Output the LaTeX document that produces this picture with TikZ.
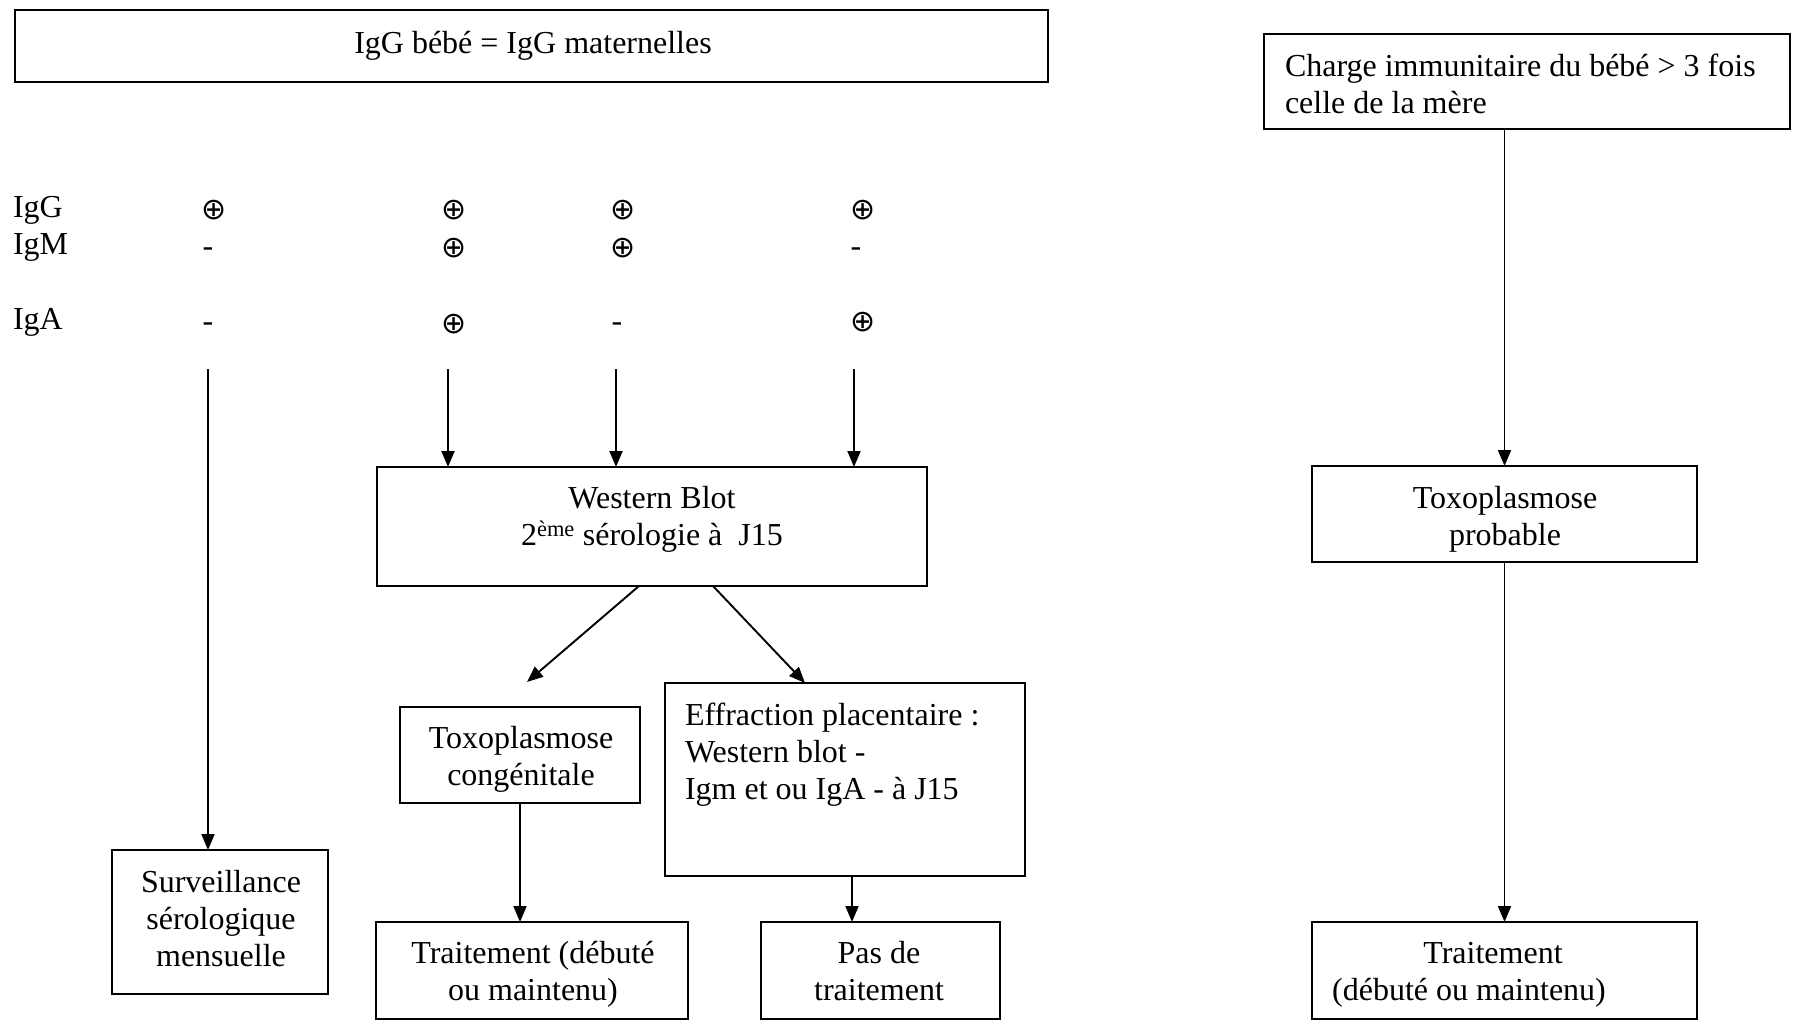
\documentclass[tikz,border=0pt]{standalone}
\usepackage{fontspec}
\setmainfont{Liberation Serif}
\newfontfamily\symbfont{DejaVu Sans}
\usetikzlibrary{arrows.meta,calc}
\begin{document}
\begin{tikzpicture}[x=1pt,y=-1pt,
  box/.style={draw, line width=2.1pt, inner sep=0pt, outer sep=0pt},
  txt/.style={inner sep=0pt, outer sep=0pt, font=\fontsize{32}{37}\selectfont},
  ctr/.style={txt, align=center, anchor=north, yshift=25.9pt},
  lft/.style={txt, align=left, anchor=north west, yshift=25.9pt},
  rowlab/.style={txt, anchor=base west},
  negsign/.style={txt, anchor=base},
  plus/.style={inner sep=0pt, font=\symbfont\fontsize{30}{30}\selectfont},
  arr/.style={line width=1.9pt, -{Triangle[length=16pt,width=13pt]}}]
\useasboundingbox (0,0) rectangle (1793,1024);

% boxes
\node[box, minimum width=1033pt, minimum height=72pt]  (top)    at (531.5,46) {};
\node[box, minimum width=526pt,  minimum height=95pt]  (charge) at (1527,81.5) {};
\node[box, minimum width=550pt,  minimum height=119pt] (wb)     at (652,526.5) {};
\node[box, minimum width=240pt,  minimum height=96pt]  (tcg)    at (520,755) {};
\node[box, minimum width=360pt,  minimum height=193pt] (eff)    at (845,779.5) {};
\node[box, minimum width=216pt,  minimum height=144pt] (surv)   at (220,922) {};
\node[box, minimum width=312pt,  minimum height=97pt]  (trl)    at (532,970.5) {};
\node[box, minimum width=239pt,  minimum height=97pt]  (pas)    at (880.5,970.5) {};
\node[box, minimum width=385pt,  minimum height=96pt]  (tp)     at (1504.5,514) {};
\node[box, minimum width=385pt,  minimum height=97pt]  (trr)    at (1504.5,970.5) {};

% box texts (positions are first baselines)
\node[ctr] (ttop) at (533,53.5) {\strut IgG bébé = IgG maternelles};
\node[lft] (tcharge) at (1285,76.5) {\strut Charge immunitaire du bébé > 3 fois\\celle de la mère};
\node[ctr] (twb) at (652,508.5) {\strut Western Blot\\2\textsuperscript{ème} sérologie à~ J15};
\node[ctr] (ttcg) at (521,748) {\strut Toxoplasmose\\congénitale};
\node[lft] (teff) at (685,725) {\strut Effraction placentaire :\\Western blot -\\Igm et ou IgA - à J15};
\node[ctr] (tsurv) at (221,892) {\strut Surveillance\\sérologique\\mensuelle};
\node[ctr] (ttrl) at (533,963.5) {\strut Traitement (débuté\\ou maintenu)};
\node[ctr] (tpas) at (879,963.5) {\strut Pas de\\traitement};
\node[ctr] (ttp) at (1505,508.5) {\strut Toxoplasmose\\probable};
\node[ctr] (ttrr) at (1493,963.5) {\strut Traitement\\(débuté ou maintenu)\hspace*{48pt}};

% serology table
\node[rowlab] (lg) at (13,218) {IgG};
\node[rowlab] (lm) at (13,255) {IgM};
\node[rowlab] (la) at (13,329) {IgA};

\node[plus] (g1) at (214,210.5) {⊕};
\node[plus] (g2) at (454,210.5) {⊕};
\node[plus] (g3) at (623,210.5) {⊕};
\node[plus] (g4) at (863,210.5) {⊕};

\node[negsign] (m1) at (208,257) {-};
\node[plus]    (m2) at (454,248) {⊕};
\node[plus]    (m3) at (623,248) {⊕};
\node[negsign] (m4) at (856,257) {-};

\node[negsign] (a1) at (208,331) {-};
\node[plus]    (a2) at (454,324) {⊕};
\node[negsign] (a3) at (617,331) {-};
\node[plus]    (a4) at (863,322) {⊕};

% free ends of the connectors
\coordinate (c1) at (208,369);
\coordinate (c2) at (448,369);
\coordinate (c3) at (616,369);
\coordinate (c4) at (854,369);
\coordinate (dl) at (527,682);
\coordinate (e1) at (852,0);

% connectors
\draw[arr] (c1) -- (c1 |- surv.north);
\draw[arr] (c2) -- (c2 |- wb.north);
\draw[arr] (c3) -- (c3 |- wb.north);
\draw[arr] (c4) -- (c4 |- wb.north);
\draw[arr] ($(wb.south)+(-13,0)$) -- (dl);
\draw[arr] ($(wb.south)+(61,0)$) -- ($(eff.north west)+(140,0)$);
\draw[arr] (tcg.south) -- (tcg.south |- trl.north);
\draw[arr] (eff.south -| e1) -- (e1 |- pas.north);
\draw[arr] (charge.south -| tp.north) -- (tp.north);
\draw[arr] (tp.south) -- (tp.south |- trr.north);
\end{tikzpicture}
\end{document}
